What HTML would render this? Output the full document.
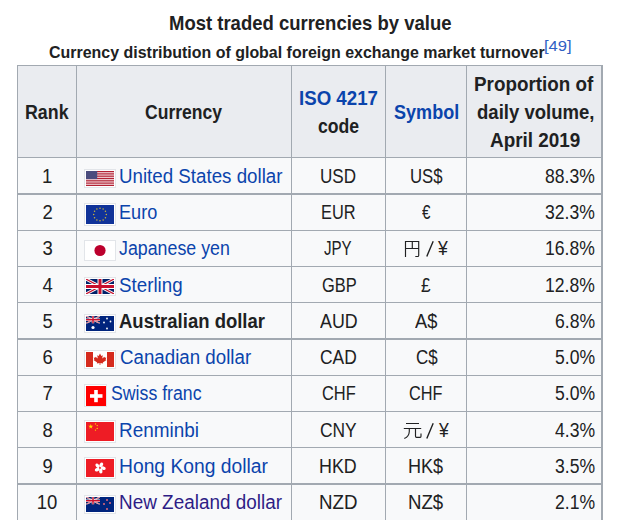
<!DOCTYPE html>
<html><head><meta charset="utf-8"><style>
html,body{margin:0;padding:0;background:#fff;width:638px;height:520px;overflow:hidden;position:relative}
.t{position:absolute;white-space:pre;font-family:"Liberation Sans", sans-serif}
.b{position:absolute;background:#a2a9b1}
.f{position:absolute;display:block}
</style></head><body>
<div style='position:absolute;left:17px;top:65px;width:585px;height:92px;background:#eaecf0'></div><div style='position:absolute;left:17px;top:157px;width:585px;height:363px;background:#f8f9fa'></div>
<div class=b style='left:17px;top:65px;width:1px;height:455px'></div><div class=b style='left:76px;top:65px;width:1px;height:455px'></div><div class=b style='left:291px;top:65px;width:1px;height:455px'></div><div class=b style='left:385px;top:65px;width:1px;height:455px'></div><div class=b style='left:466px;top:65px;width:1px;height:455px'></div><div class=b style='left:601px;top:65px;width:2px;height:455px'></div><div class=b style='left:17px;top:65px;width:586px;height:1px'></div><div class=b style='left:17px;top:157px;width:586px;height:1px'></div><div class=b style='left:17px;top:193px;width:586px;height:2px'></div><div class=b style='left:17px;top:230px;width:586px;height:1px'></div><div class=b style='left:17px;top:266px;width:586px;height:1px'></div><div class=b style='left:17px;top:302px;width:586px;height:1px'></div><div class=b style='left:17px;top:338px;width:586px;height:2px'></div><div class=b style='left:17px;top:375px;width:586px;height:1px'></div><div class=b style='left:17px;top:411px;width:586px;height:1px'></div><div class=b style='left:17px;top:447px;width:586px;height:1px'></div><div class=b style='left:17px;top:483px;width:586px;height:2px'></div>
<svg class=f style='left:84px;top:169px' width='32' height='19'><rect x='0.5' y='0.5' width='31' height='18' fill='#fff' stroke='#e2e5e9'/><svg x='2' y='2' width='28' height='15'><rect width='28' height='15' fill='#f1d4d8'/><rect x='0' y='0.000' width='28' height='1.154' fill='#b22234'/><rect x='0' y='2.308' width='28' height='1.154' fill='#b22234'/><rect x='0' y='4.615' width='28' height='1.154' fill='#b22234'/><rect x='0' y='6.923' width='28' height='1.154' fill='#b22234'/><rect x='0' y='9.231' width='28' height='1.154' fill='#b22234'/><rect x='0' y='11.538' width='28' height='1.154' fill='#b22234'/><rect x='0' y='13.846' width='28' height='1.154' fill='#b22234'/><rect width='11.20' height='8.08' fill='#4b4d7e'/></svg></svg><svg class=f style='left:84px;top:203px' width='32' height='23'><rect x='0.5' y='0.5' width='31' height='22' fill='#fff' stroke='#e2e5e9'/><svg x='2' y='2' width='28' height='19'><rect width='28' height='19' fill='#103399'/><circle cx='14.00' cy='3.20' r='0.75' fill='#cdb43a'/><circle cx='17.15' cy='4.04' r='0.75' fill='#cdb43a'/><circle cx='19.46' cy='6.35' r='0.75' fill='#cdb43a'/><circle cx='20.30' cy='9.50' r='0.75' fill='#cdb43a'/><circle cx='19.46' cy='12.65' r='0.75' fill='#cdb43a'/><circle cx='17.15' cy='14.96' r='0.75' fill='#cdb43a'/><circle cx='14.00' cy='15.80' r='0.75' fill='#cdb43a'/><circle cx='10.85' cy='14.96' r='0.75' fill='#cdb43a'/><circle cx='8.54' cy='12.65' r='0.75' fill='#cdb43a'/><circle cx='7.70' cy='9.50' r='0.75' fill='#cdb43a'/><circle cx='8.54' cy='6.35' r='0.75' fill='#cdb43a'/><circle cx='10.85' cy='4.04' r='0.75' fill='#cdb43a'/></svg></svg><svg class=f style='left:84px;top:240px' width='32' height='21'><rect x='0.5' y='0.5' width='31' height='20' fill='#fff' stroke='#e2e5e9'/><svg x='2' y='2' width='28' height='17'><rect width='28' height='17' fill='#fff'/><circle cx='14.0' cy='8.5' r='5.6' fill='#bc002d'/></svg></svg><svg class=f style='left:84px;top:277px' width='32' height='19'><rect x='0.5' y='0.5' width='31' height='18' fill='#fff' stroke='#e2e5e9'/><svg x='2' y='2' width='28' height='15'><rect width='28' height='15' fill='#012169'/><path d='M0,0 L28,15 M28,0 L0,15' stroke='#fff' stroke-width='3.00'/><path d='M0,0 L28,15 M28,0 L0,15' stroke='#c8102e' stroke-width='1.20'/><path d='M14.0,0 V15 M0,7.5 H28' stroke='#fff' stroke-width='4.95'/><path d='M14.0,0 V15 M0,7.5 H28' stroke='#c8102e' stroke-width='3.00'/></svg></svg><svg class=f style='left:84px;top:314px' width='32' height='19'><rect x='0.5' y='0.5' width='31' height='18' fill='#fff' stroke='#e2e5e9'/><svg x='2' y='2' width='28' height='15'><rect width='28' height='15' fill='#00247d'/><svg width='14.0' height='7.5' viewBox='0 0 14.0 7.5'><rect width='14.0' height='7.5' fill='#012169'/><path d='M0,0 L14.0,7.5 M14.0,0 L0,7.5' stroke='#fff' stroke-width='1.50'/><path d='M0,0 L14.0,7.5 M14.0,0 L0,7.5' stroke='#c8102e' stroke-width='0.60'/><path d='M7.0,0 V7.5 M0,3.75 H14.0' stroke='#fff' stroke-width='2.48'/><path d='M7.0,0 V7.5 M0,3.75 H14.0' stroke='#c8102e' stroke-width='1.50'/></svg><circle cx='7' cy='11.5' r='1.6' fill='#fff'/><circle cx='21' cy='2.5' r='0.9' fill='#fff'/><circle cx='18' cy='6.5' r='0.9' fill='#fff'/><circle cx='24.5' cy='5.5' r='0.9' fill='#fff'/><circle cx='21' cy='12.5' r='0.9' fill='#fff'/></svg></svg><svg class=f style='left:84px;top:350px' width='32' height='19'><rect x='0.5' y='0.5' width='31' height='18' fill='#fff' stroke='#e2e5e9'/><svg x='2' y='2' width='28' height='15'><rect width='28' height='15' fill='#fff'/><rect width='7' height='15' fill='#d52b1e'/><rect x='21' width='7' height='15' fill='#d52b1e'/><path transform='translate(0,-1.2) scale(1,0.93)' d='M14,3 L15.3,5.5 L16.8,4.8 L16.2,8.2 L18.5,6.3 L18.9,7.6 L20.3,7.3 L19.6,9.6 L20.5,10 L16.8,12.6 L17.2,13.7 L14.4,13.2 L14.5,15 L13.5,15 L13.6,13.2 L10.8,13.7 L11.2,12.6 L7.5,10 L8.4,9.6 L7.7,7.3 L9.1,7.6 L9.5,6.3 L11.8,8.2 L11.2,4.8 L12.7,5.5 Z' fill='#d52b1e'/></svg></svg><svg class=f style='left:84px;top:384px' width='23' height='23'><rect x='0.5' y='0.5' width='22' height='22' fill='#fff' stroke='#e2e5e9'/><svg x='2' y='2' width='20' height='20'><rect width='20' height='20' fill='#ff0000'/><rect x='4' y='8.2' width='12.5' height='3.6' fill='#fff'/><rect x='8.2' y='4' width='3.6' height='12.2' fill='#fff'/></svg></svg><svg class=f style='left:84px;top:420px' width='32' height='23'><rect x='0.5' y='0.5' width='31' height='22' fill='#fff' stroke='#e2e5e9'/><svg x='2' y='2' width='28' height='19'><rect width='28' height='19' fill='#ee1c25'/><path d='M4.80,2.00 L5.38,3.80 L7.27,3.80 L5.74,4.91 L6.33,6.70 L4.80,5.59 L3.27,6.70 L3.86,4.91 L2.33,3.80 L4.22,3.80 Z' fill='#ffde00'/><circle cx='9.5' cy='1.9' r='0.7' fill='#ffde00'/><circle cx='11.2' cy='3.6' r='0.7' fill='#ffde00'/><circle cx='11.2' cy='6.4' r='0.7' fill='#ffde00'/><circle cx='9.5' cy='8.1' r='0.7' fill='#ffde00'/></svg></svg><svg class=f style='left:84px;top:457px' width='32' height='22'><rect x='0.5' y='0.5' width='31' height='21' fill='#fff' stroke='#e2e5e9'/><svg x='2' y='2' width='28' height='18'><rect width='28' height='18' fill='#ee1c25'/><ellipse cx='14.8' cy='5.7' rx='1.7' ry='2.5' transform='rotate(8 14 8.9) rotate(25 14.8 5.7)' fill='#fff'/><ellipse cx='14.8' cy='5.7' rx='1.7' ry='2.5' transform='rotate(80 14 8.9) rotate(25 14.8 5.7)' fill='#fff'/><ellipse cx='14.8' cy='5.7' rx='1.7' ry='2.5' transform='rotate(152 14 8.9) rotate(25 14.8 5.7)' fill='#fff'/><ellipse cx='14.8' cy='5.7' rx='1.7' ry='2.5' transform='rotate(224 14 8.9) rotate(25 14.8 5.7)' fill='#fff'/><ellipse cx='14.8' cy='5.7' rx='1.7' ry='2.5' transform='rotate(296 14 8.9) rotate(25 14.8 5.7)' fill='#fff'/></svg></svg><svg class=f style='left:84px;top:495px' width='32' height='19'><rect x='0.5' y='0.5' width='31' height='18' fill='#fff' stroke='#e2e5e9'/><svg x='2' y='2' width='28' height='15'><rect width='28' height='15' fill='#00247d'/><svg width='14.0' height='7.5' viewBox='0 0 14.0 7.5'><rect width='14.0' height='7.5' fill='#012169'/><path d='M0,0 L14.0,7.5 M14.0,0 L0,7.5' stroke='#fff' stroke-width='1.50'/><path d='M0,0 L14.0,7.5 M14.0,0 L0,7.5' stroke='#c8102e' stroke-width='0.60'/><path d='M7.0,0 V7.5 M0,3.75 H14.0' stroke='#fff' stroke-width='2.48'/><path d='M7.0,0 V7.5 M0,3.75 H14.0' stroke='#c8102e' stroke-width='1.50'/></svg><circle cx='21' cy='3' r='1' fill='#e0697a'/><circle cx='18' cy='7' r='1' fill='#e0697a'/><circle cx='24' cy='6' r='1' fill='#e0697a'/><circle cx='21' cy='12' r='1' fill='#e0697a'/></svg></svg>
<div class=t style='left:168.91px;top:13.00px;font-size:18.7px;font-weight:700;color:#202122;line-height:21px;transform:scale(0.9891,1.035);transform-origin:0 17px'>Most traded currencies by value</div><div class=t style='left:48.50px;top:44.00px;font-size:15.9px;font-weight:700;color:#202122;line-height:17px;transform:scale(1.0043,1);transform-origin:0 14px'>Currency distribution of global foreign exchange market turnover</div><div class=t style='left:543.81px;top:38.00px;font-size:14px;font-weight:400;color:#2f5fc4;line-height:16px;transform:scale(1.1882,1);transform-origin:0 13px'>[49]</div><div class=t style='left:24.94px;top:102.00px;font-size:18.5px;font-weight:700;color:#202122;line-height:21px;transform:scale(0.9633,1.07);transform-origin:0 17px'>Rank</div><div class=t style='left:145.40px;top:102.00px;font-size:18.5px;font-weight:700;color:#202122;line-height:21px;transform:scale(0.9495,1.07);transform-origin:0 17px'>Currency</div><div class=t style='left:298.89px;top:88.00px;font-size:18.5px;font-weight:700;color:#0b44ac;line-height:21px;transform:scale(1.0094,1.07);transform-origin:0 17px'>ISO 4217</div><div class=t style='left:318.20px;top:116.00px;font-size:18.5px;font-weight:700;color:#202122;line-height:21px;transform:scale(0.9536,1.07);transform-origin:0 17px'>code</div><div class=t style='left:394.40px;top:102.00px;font-size:18.5px;font-weight:700;color:#0b44ac;line-height:21px;transform:scale(0.9760,1.07);transform-origin:0 17px'>Symbol</div><div class=t style='left:474.18px;top:74.00px;font-size:18.5px;font-weight:700;color:#202122;line-height:21px;transform:scale(1.0190,1.07);transform-origin:0 17px'>Proportion of</div><div class=t style='left:476.50px;top:102.00px;font-size:18.5px;font-weight:700;color:#202122;line-height:21px;transform:scale(1.0020,1.07);transform-origin:0 17px'>daily volume,</div><div class=t style='left:489.70px;top:130.00px;font-size:18.5px;font-weight:700;color:#202122;line-height:21px;transform:scale(1.0210,1.07);transform-origin:0 17px'>April 2019</div><div class=t style='left:41.90px;top:166.00px;font-size:18.5px;font-weight:400;color:#202122;line-height:21px;transform:scale(1.0000,1.07);transform-origin:0 17px'>1</div><div class=t style='left:119.39px;top:166.00px;font-size:18.5px;font-weight:400;color:#0b44ac;line-height:21px;transform:scale(1.0125,1.07);transform-origin:0 17px'>United States dollar</div><div class=t style='left:320.38px;top:166.00px;font-size:18.5px;font-weight:400;color:#202122;line-height:21px;transform:scale(0.9231,1.07);transform-origin:0 17px'>USD</div><div class=t style='left:409.60px;top:166.00px;font-size:18.5px;font-weight:400;color:#202122;line-height:21px;transform:scale(0.9049,1.07);transform-origin:0 17px'>US$</div><div class=t style='left:545.09px;top:166.00px;font-size:18.5px;font-weight:400;color:#202122;line-height:21px;transform:scale(0.9500,1.07);transform-origin:0 17px'>88.3%</div><div class=t style='left:42.40px;top:202.00px;font-size:18.5px;font-weight:400;color:#202122;line-height:21px;transform:scale(1.0000,1.07);transform-origin:0 17px'>2</div><div class=t style='left:118.82px;top:202.00px;font-size:18.5px;font-weight:400;color:#0b44ac;line-height:21px;transform:scale(0.9791,1.07);transform-origin:0 17px'>Euro</div><div class=t style='left:321.12px;top:202.00px;font-size:18.5px;font-weight:400;color:#202122;line-height:21px;transform:scale(0.8833,1.07);transform-origin:0 17px'>EUR</div><div class=t style='left:422.20px;top:202.00px;font-size:18.5px;font-weight:400;color:#202122;line-height:21px;transform:scale(0.8182,1.07);transform-origin:0 17px'>€</div><div class=t style='left:545.09px;top:202.00px;font-size:18.5px;font-weight:400;color:#202122;line-height:21px;transform:scale(0.9500,1.07);transform-origin:0 17px'>32.3%</div><div class=t style='left:42.40px;top:238.00px;font-size:18.5px;font-weight:400;color:#202122;line-height:21px;transform:scale(1.0000,1.07);transform-origin:0 17px'>3</div><div class=t style='left:119.20px;top:238.00px;font-size:18.5px;font-weight:400;color:#0b44ac;line-height:21px;transform:scale(0.9625,1.07);transform-origin:0 17px'>Japanese yen</div><div class=t style='left:324.30px;top:238.00px;font-size:18.5px;font-weight:400;color:#202122;line-height:21px;transform:scale(0.8157,1.07);transform-origin:0 17px'>JPY</div><div class=t style='left:438.25px;top:238.00px;font-size:18.5px;font-weight:400;color:#202122;line-height:21px;transform:scale(0.9500,1.07);transform-origin:0 17px'>¥</div><div class=t style='left:545.09px;top:238.00px;font-size:18.5px;font-weight:400;color:#202122;line-height:21px;transform:scale(0.9500,1.07);transform-origin:0 17px'>16.8%</div><div class=t style='left:42.40px;top:275.00px;font-size:18.5px;font-weight:400;color:#202122;line-height:21px;transform:scale(1.0000,1.07);transform-origin:0 17px'>4</div><div class=t style='left:119.20px;top:275.00px;font-size:18.5px;font-weight:400;color:#0b44ac;line-height:21px;transform:scale(1.0138,1.07);transform-origin:0 17px'>Sterling</div><div class=t style='left:321.50px;top:275.00px;font-size:18.5px;font-weight:400;color:#202122;line-height:21px;transform:scale(0.8882,1.07);transform-origin:0 17px'>GBP</div><div class=t style='left:421.40px;top:275.00px;font-size:18.5px;font-weight:400;color:#202122;line-height:21px;transform:scale(0.9300,1.07);transform-origin:0 17px'>£</div><div class=t style='left:545.09px;top:275.00px;font-size:18.5px;font-weight:400;color:#202122;line-height:21px;transform:scale(0.9500,1.07);transform-origin:0 17px'>12.8%</div><div class=t style='left:42.40px;top:311.00px;font-size:18.5px;font-weight:400;color:#202122;line-height:21px;transform:scale(1.0000,1.07);transform-origin:0 17px'>5</div><div class=t style='left:119.20px;top:311.00px;font-size:18.5px;font-weight:700;color:#202122;line-height:21px;transform:scale(1.0002,1.07);transform-origin:0 17px'>Australian dollar</div><div class=t style='left:320.00px;top:311.00px;font-size:18.5px;font-weight:400;color:#202122;line-height:21px;transform:scale(0.9638,1.07);transform-origin:0 17px'>AUD</div><div class=t style='left:415.20px;top:311.00px;font-size:18.5px;font-weight:400;color:#202122;line-height:21px;transform:scale(0.9848,1.07);transform-origin:0 17px'>A$</div><div class=t style='left:554.87px;top:311.00px;font-size:18.5px;font-weight:400;color:#202122;line-height:21px;transform:scale(0.9500,1.07);transform-origin:0 17px'>6.8%</div><div class=t style='left:42.40px;top:347.00px;font-size:18.5px;font-weight:400;color:#202122;line-height:21px;transform:scale(1.0000,1.07);transform-origin:0 17px'>6</div><div class=t style='left:119.80px;top:347.00px;font-size:18.5px;font-weight:400;color:#0b44ac;line-height:21px;transform:scale(1.0121,1.07);transform-origin:0 17px'>Canadian dollar</div><div class=t style='left:320.40px;top:347.00px;font-size:18.5px;font-weight:400;color:#202122;line-height:21px;transform:scale(0.9406,1.07);transform-origin:0 17px'>CAD</div><div class=t style='left:415.60px;top:347.00px;font-size:18.5px;font-weight:400;color:#202122;line-height:21px;transform:scale(0.9161,1.07);transform-origin:0 17px'>C$</div><div class=t style='left:554.87px;top:347.00px;font-size:18.5px;font-weight:400;color:#202122;line-height:21px;transform:scale(0.9500,1.07);transform-origin:0 17px'>5.0%</div><div class=t style='left:42.40px;top:383.00px;font-size:18.5px;font-weight:400;color:#202122;line-height:21px;transform:scale(1.0000,1.07);transform-origin:0 17px'>7</div><div class=t style='left:111.30px;top:383.00px;font-size:18.5px;font-weight:400;color:#0b44ac;line-height:21px;transform:scale(0.9573,1.07);transform-origin:0 17px'>Swiss franc</div><div class=t style='left:321.50px;top:383.00px;font-size:18.5px;font-weight:400;color:#202122;line-height:21px;transform:scale(0.8881,1.07);transform-origin:0 17px'>CHF</div><div class=t style='left:409.40px;top:383.00px;font-size:18.5px;font-weight:400;color:#202122;line-height:21px;transform:scale(0.8802,1.07);transform-origin:0 17px'>CHF</div><div class=t style='left:554.87px;top:383.00px;font-size:18.5px;font-weight:400;color:#202122;line-height:21px;transform:scale(0.9500,1.07);transform-origin:0 17px'>5.0%</div><div class=t style='left:42.40px;top:420.00px;font-size:18.5px;font-weight:400;color:#202122;line-height:21px;transform:scale(1.0000,1.07);transform-origin:0 17px'>8</div><div class=t style='left:118.78px;top:420.00px;font-size:18.5px;font-weight:400;color:#0b44ac;line-height:21px;transform:scale(1.0232,1.07);transform-origin:0 17px'>Renminbi</div><div class=t style='left:320.40px;top:420.00px;font-size:18.5px;font-weight:400;color:#202122;line-height:21px;transform:scale(0.9401,1.07);transform-origin:0 17px'>CNY</div><div class=t style='left:438.55px;top:420.00px;font-size:18.5px;font-weight:400;color:#202122;line-height:21px;transform:scale(0.9500,1.07);transform-origin:0 17px'>¥</div><div class=t style='left:554.87px;top:420.00px;font-size:18.5px;font-weight:400;color:#202122;line-height:21px;transform:scale(0.9500,1.07);transform-origin:0 17px'>4.3%</div><div class=t style='left:42.40px;top:456.00px;font-size:18.5px;font-weight:400;color:#202122;line-height:21px;transform:scale(1.0000,1.07);transform-origin:0 17px'>9</div><div class=t style='left:118.76px;top:456.00px;font-size:18.5px;font-weight:400;color:#0b44ac;line-height:21px;transform:scale(1.0416,1.07);transform-origin:0 17px'>Hong Kong dollar</div><div class=t style='left:319.43px;top:456.00px;font-size:18.5px;font-weight:400;color:#202122;line-height:21px;transform:scale(0.9655,1.07);transform-origin:0 17px'>HKD</div><div class=t style='left:408.42px;top:456.00px;font-size:18.5px;font-weight:400;color:#202122;line-height:21px;transform:scale(0.9770,1.07);transform-origin:0 17px'>HK$</div><div class=t style='left:554.87px;top:456.00px;font-size:18.5px;font-weight:400;color:#202122;line-height:21px;transform:scale(0.9500,1.07);transform-origin:0 17px'>3.5%</div><div class=t style='left:36.76px;top:492.00px;font-size:18.5px;font-weight:400;color:#202122;line-height:21px;transform:scale(1.0000,1.07);transform-origin:0 17px'>10</div><div class=t style='left:118.78px;top:492.00px;font-size:18.5px;font-weight:400;color:#2e1d86;line-height:21px;transform:scale(1.0226,1.07);transform-origin:0 17px'>New Zealand dollar</div><div class=t style='left:319.39px;top:492.00px;font-size:18.5px;font-weight:400;color:#202122;line-height:21px;transform:scale(1.0120,1.07);transform-origin:0 17px'>NZD</div><div class=t style='left:408.39px;top:492.00px;font-size:18.5px;font-weight:400;color:#202122;line-height:21px;transform:scale(1.0071,1.07);transform-origin:0 17px'>NZ$</div><div class=t style='left:554.87px;top:492.00px;font-size:18.5px;font-weight:400;color:#202122;line-height:21px;transform:scale(0.9500,1.07);transform-origin:0 17px'>2.1%</div>
<svg style="position:absolute;left:0;top:0" width="638" height="520"><path d="M405.5,257 V241.5 H418.7 V255.4 Q418.7,256.5 417.5,256.5 H415.3 M412.3,241.5 V248.5 M405.5,248.5 H418.7 M406,423.5 H419 M403.8,428.5 H421.2 M409.3,428.5 V431.5 Q409.1,436.4 404.3,438.6 M415.5,428.5 V436.3 Q415.5,437.3 416.5,437.3 H420.2 Q421,437.3 421,436.3 V433.6" fill="none" stroke="#202122" stroke-width="1.15"/><path d="M426.8,256.4 L433.2,241.3 M426.8,438.4 L433.2,423.3" fill="none" stroke="#202122" stroke-width="1.4"/></svg>
</body></html>
